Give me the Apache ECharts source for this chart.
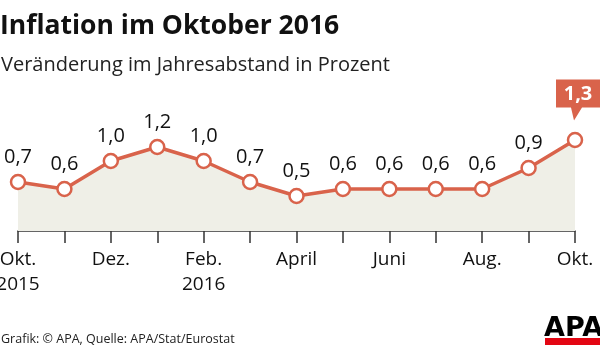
<!DOCTYPE html>
<html><head><meta charset="utf-8">
<script src="https://cdn.jsdelivr.net/npm/echarts@6/dist/echarts.min.js"></script>
<style>html,body{margin:0;padding:0;background:#fff}#c{width:600px;height:360px}</style>
</head><body><div id="c"></div>
<script>
const categories = ['Okt.\n2015','Nov.','Dez.','Jan.','Feb.\n2016','März','April','Mai','Juni','Juli','Aug.','Sep.','Okt.'];
const tickLabels = ['Okt.\n2015','','Dez.','','Feb.\n2016','','April','','Juni','','Aug.','','Okt.'];
const inflation = [0.7, 0.6, 1.0, 1.2, 1.0, 0.7, 0.5, 0.6, 0.6, 0.6, 0.6, 0.9, 1.3];
const titleText = 'Inflation im Oktober 2016';
const subtitleText = 'Veränderung im Jahresabstand in Prozent';
const sourceText = 'Grafik: © APA, Quelle: APA/Stat/Eurostat';

const FONT = '"Open Sans", sans-serif';
const RED = '#d9634b';
const fmt = v => String(v.toFixed(1)).replace('.', ',');
const last = inflation.length - 1;

const chart = echarts.init(document.getElementById('c'), null, {renderer: 'canvas'});
chart.setOption({
  animation: false,
  backgroundColor: '#fff',
  title: [
    {text: titleText, left: -5, top: 8, textStyle: {fontFamily: FONT, fontSize: 26.5, fontWeight: 'bold', color: '#111'}},
    {text: subtitleText, left: -4, top: 50, textStyle: {fontFamily: FONT, fontSize: 20, fontWeight: 'normal', color: '#222'}},
    {text: sourceText, left: -4, top: 328, textStyle: {fontFamily: FONT, fontSize: 12.5, fontWeight: 'normal', color: '#222'}}
  ],
  grid: {left: 18, right: 25, top: 126, bottom: 129, outerBoundsMode: 'none', containLabel: false},
  xAxis: {
    type: 'category', data: categories, boundaryGap: false,
    axisLine: {show: true, lineStyle: {color: '#333', width: 1.5}},
    axisTick: {show: true, length: 12, interval: 0, lineStyle: {color: '#333', width: 1.5}},
    axisLabel: {interval: 0, margin: 16, fontFamily: FONT, fontSize: 19, color: '#111', lineHeight: 25,
      formatter: (v, i) => tickLabels[i]}
  },
  yAxis: {type: 'value', min: 0, max: 1.5, show: false, splitLine: {show: false}},
  series: [{
    type: 'line', data: inflation.map((v, i) => i === last ? {value: v, label: {show: false}} : v),
    lineStyle: {color: RED, width: 3.5},
    areaStyle: {color: '#efefe7', opacity: 1},
    symbol: 'circle', symbolSize: 14,
    itemStyle: {color: '#fff', borderColor: RED, borderWidth: 2.5},
    label: {show: true, position: 'top', distance: 6, fontFamily: FONT, fontSize: 20, color: '#111',
      formatter: p => fmt(p.value)},
    z: 3,
    markPoint: {
      symbol: 'path://M0,0 L44,0 L44,28 L26,28 L18,41 L15,28 L0,28 Z',
      symbolSize: [44, 41], symbolKeepAspect: false,
      symbolOffset: [3, -40],
      itemStyle: {color: RED},
      label: {show: true, position: 'inside', offset: [0, -6], color: '#fff', fontFamily: FONT, fontSize: 20, fontWeight: 'bold',
        formatter: p => fmt(p.value)},
      data: [{coord: [last, inflation[last]], value: inflation[last]}]
    }
  }],
  graphic: [
    {type: 'rect', shape: {x: 545, y: 338, width: 60, height: 7}, style: {fill: '#e30613'}},
    {type: 'text', x: 544, y: 315, style: {text: 'APA', font: 'bold 27px "DejaVu Sans", sans-serif', fill: '#000'}}
  ]
});
</script></body></html>
